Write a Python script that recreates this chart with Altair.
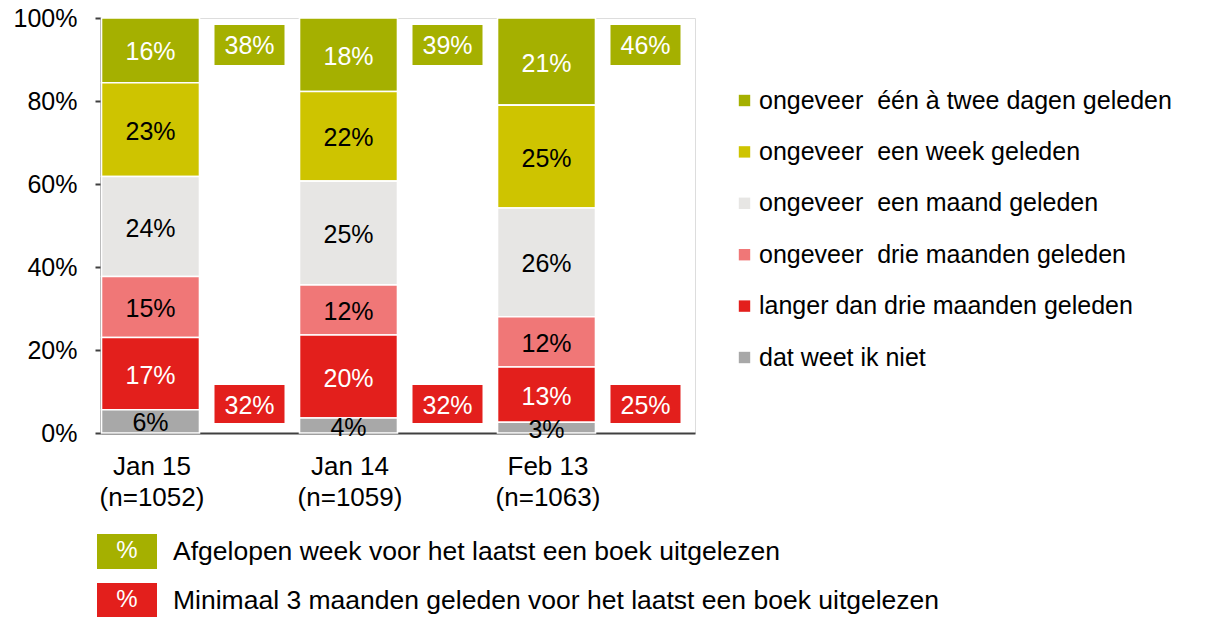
import altair as alt
import pandas as pd

FONT = "Liberation Sans"

# ---- data -------------------------------------------------------------
dates = ["Jan 15|(n=1052)", "Jan 14|(n=1059)", "Feb 13|(n=1063)"]
categories = [
    "ongeveer\u00a0 één à twee dagen geleden",
    "ongeveer\u00a0 een week geleden",
    "ongeveer\u00a0 een maand geleden",
    "ongeveer\u00a0 drie maanden geleden",
    "langer dan drie maanden geleden",
    "dat weet ik niet",
]
# share per category (same order as categories), one value per date
dagen = [15.6, 17.7, 21.0]
week = [22.6, 21.6, 24.8]
maand = [24.1, 25.0, 26.2]
drie_maanden = [14.7, 12.1, 12.1]
langer = [17.4, 20.0, 13.3]
weet_niet = [5.6, 3.6, 2.6]
series = [dagen, week, maand, drie_maanden, langer, weet_niet]

afgelopen_week = [38, 39, 46]
minimaal_3_maanden = [32, 32, 25]

notes = [
    "Afgelopen week voor het laatst een boek uitgelezen",
    "Minimaal 3 maanden geleden voor het laatst een boek uitgelezen",
]

# ---- styles -----------------------------------------------------------
GREEN = "#a5b000"
RED = "#e31f1c"
colors = [GREEN, "#cec400", "#e7e6e4", "#f07777", RED, "#a8a8a8"]
white_text = [categories[0], categories[4]]
note_colors = [GREEN, RED]

rows = []
for ci, (cat, vals) in enumerate(zip(categories, series)):
    for d, v in zip(dates, vals):
        rows.append({"date": d, "cat": cat, "rank": ci, "value": v})
df = pd.DataFrame(rows)

box_df = pd.DataFrame({"date": dates, "week": afgelopen_week, "old": minimaal_3_maanden})

x_enc = alt.X(
    "date:N",
    sort=dates,
    scale=alt.Scale(paddingInner=0, paddingOuter=0),
    axis=alt.Axis(
        title=None,
        labelExpr="split(datum.label, '|')",
        labelOffset=-48,
        ticks=False,
        labelAngle=0,
        labelPadding=20,
        labelFontSize=26,
        labelLineHeight=31,
        labelFont=FONT,
        labelColor="#000000",
        domainColor="#404040",
        domainWidth=2,
    ),
)
xoff = alt.XOffset("kind:N", scale=alt.Scale(domain=["bar", "box"], paddingInner=0, paddingOuter=0))

base = (
    alt.Chart(df)
    .transform_stack(
        stack="value",
        groupby=["date"],
        as_=["y0", "y1"],
        sort=[alt.SortField("rank", order="descending")],
    )
    .transform_calculate(
        kind="'bar'",
        ymid="(datum.y0 + datum.y1) / 2",
        label="format(datum.value, '.0f') + '%'",
    )
)

bars = base.mark_bar(width=98, stroke="white", strokeWidth=1.6).encode(
    x=x_enc,
    xOffset=xoff,
    y=alt.Y(
        "y0:Q",
        scale=alt.Scale(domain=[0, 100], nice=False),
        axis=alt.Axis(
            title=None,
            values=[0, 20, 40, 60, 80, 100],
            labelExpr="datum.value + '%'",
            grid=False,
            tickSize=6,
            tickWidth=2,
            tickColor="#404040",
            domainColor="#404040",
            domainWidth=2,
            labelPadding=18,
            labelFontSize=25,
            labelFont=FONT,
            labelColor="#000000",
        ),
    ),
    y2="y1:Q",
    color=alt.Color(
        "cat:N",
        scale=alt.Scale(domain=categories, range=colors),
        legend=alt.Legend(
            title=None,
            orient="none",
            legendX=631,
            legendY=70,
            symbolType="square",
            symbolSize=130,
            symbolStrokeWidth=0,
            labelFontSize=25,
            labelFont=FONT,
            labelColor="#000000",
            rowPadding=25.4,
            labelOffset=2,
            padding=0,
            labelLimit=600,
        ),
    ),
)

bar_text = base.mark_text(fontSize=25, font=FONT, dy=2).encode(
    x=alt.X("date:N", sort=dates),
    xOffset=xoff,
    y=alt.Y("ymid:Q"),
    text="label:N",
    color=alt.condition(
        alt.FieldOneOfPredicate(field="cat", oneOf=white_text),
        alt.value("white"),
        alt.value("black"),
    ),
)

box_base = alt.Chart(box_df).transform_calculate(
    kind="'box'",
    wlabel="datum.week + '%'",
    olabel="datum.old + '%'",
)
green_box = box_base.mark_bar(width=70, color=GREEN).encode(
    x=alt.X("date:N", sort=dates), xOffset=xoff, y=alt.value(7), y2=alt.value(47)
)
green_txt = box_base.mark_text(fontSize=25, font=FONT, color="white").encode(
    x=alt.X("date:N", sort=dates), xOffset=xoff, y=alt.value(28), text="wlabel:N"
)
red_box = box_base.mark_bar(width=70, color=RED).encode(
    x=alt.X("date:N", sort=dates), xOffset=xoff, y=alt.value(367), y2=alt.value(405)
)
red_txt = box_base.mark_text(fontSize=25, font=FONT, color="white").encode(
    x=alt.X("date:N", sort=dates), xOffset=xoff, y=alt.value(388), text="olabel:N"
)

note_layers = []
for i, (txt, col) in enumerate(zip(notes, note_colors)):
    ndf = pd.DataFrame({"t": [txt]})
    top = 516 + i * 49
    note_layers.append(
        alt.Chart(ndf).mark_rect(color=col).encode(
            x=alt.value(-4), x2=alt.value(56), y=alt.value(top), y2=alt.value(top + 35)
        )
    )
    note_layers.append(
        alt.Chart(ndf).mark_text(fontSize=24, font=FONT, color="white").encode(
            x=alt.value(26), y=alt.value(top + 17), text=alt.value("%")
        )
    )
    note_layers.append(
        alt.Chart(ndf).mark_text(fontSize=26.5, font=FONT, color="black", align="left").encode(
            x=alt.value(72), y=alt.value(top + 18), text="t:N"
        )
    )

chart = (
    alt.layer(bars, bar_text, green_box, green_txt, red_box, red_txt, *note_layers)
    .properties(
        width=594,
        height=415,
        padding={"left": 93, "top": 10, "right": 500, "bottom": 184},
        autosize=alt.AutoSizeParams(type="none"),
    )
    .configure_view(stroke=None)
    .configure(font=FONT)
)

chart.save("out.html", embed_options={"renderer": "svg", "actions": False})
